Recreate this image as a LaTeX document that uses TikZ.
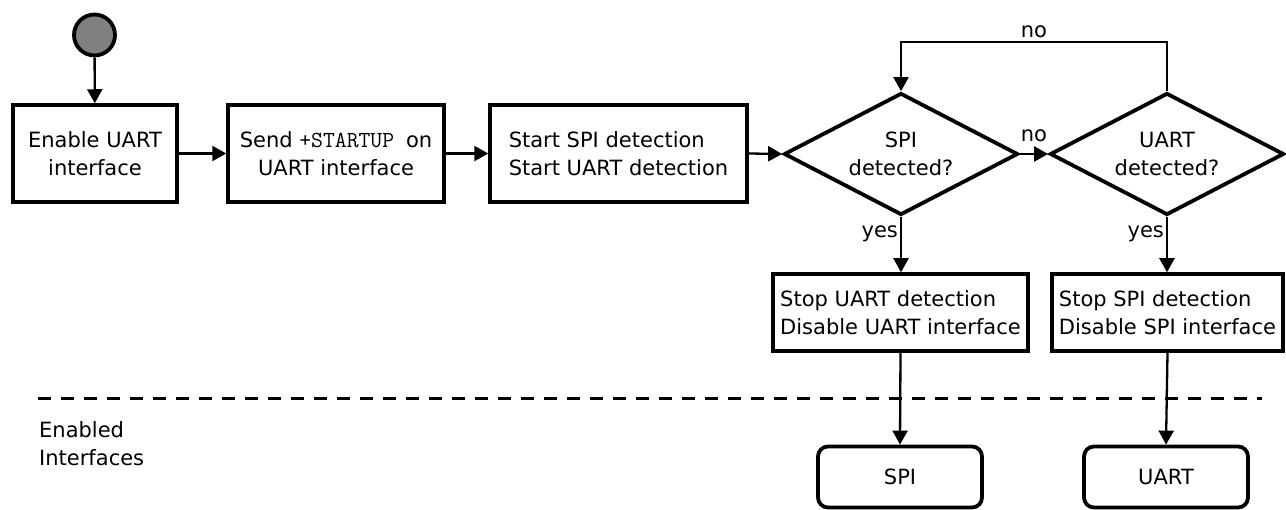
\documentclass[tikz,border=0pt]{standalone}
\usepackage{fontspec}
\setmainfont{DejaVu Sans}
\newcommand{\fs}{\fontsize{21}{28}\selectfont}
\newcommand{\monotxt}[1]{{\ttfamily\fontsize{23}{28}\selectfont #1}}
\usetikzlibrary{shapes.geometric,arrows.meta,calc}
\begin{document}
\begin{tikzpicture}[x=1pt,y=-1pt,
  every node/.style={font=\fs},
  box/.style={draw, line width=3.5pt, inner sep=0pt, align=center},
  lbox/.style={box, align=left},
  dec/.style={draw, diamond, line width=3.8pt, inner sep=0pt, aspect=1.9,
    minimum width=234pt, minimum height=122pt, align=center},
  endbox/.style={draw, line width=3.8pt, rounded corners=10pt, inner sep=0pt,
    minimum width=164pt, minimum height=61pt},
  conn/.style={line width=2.3pt, -{Triangle[length=14pt,width=15pt]}},
  lbl/.style={inner sep=2pt}
]
\useasboundingbox (0,0) rectangle (1286,510);

% separator
\coordinate (sepL) at (38,399);
\coordinate (sepR) at (1262,399);
\draw[line width=3pt, dash pattern=on 13pt off 10pt] (sepL) -- (sepR);
\node[anchor=north west, inner sep=0pt, align=left] (enab) at (39,421) {Enabled\\Interfaces};

% start
\node[circle, draw, line width=3.8pt, fill=black!50, minimum size=41pt, inner sep=0pt] (start) at (94.5,35) {};

% boxes
\node[box, minimum width=164pt, minimum height=97pt] (b1) at (95,153.5) {Enable UART\\interface};
\node[box, minimum width=216pt, minimum height=97pt] (b2) at (336,153.5) {Send \monotxt{+STARTUP }on\\UART interface};
\node[lbox, minimum width=257pt, minimum height=97pt] (b3) at (618.5,153.5) {Start SPI detection\\Start UART detection};

% decisions
\node[dec] (d1) at (901,154) {SPI\\detected?};
\node[dec] (d2) at (1167,154) {UART\\detected?};

% result boxes
\node[lbox, minimum width=255pt, minimum height=77pt] (b4) at (900.5,312.5) {Stop UART detection\\Disable UART interface};
\node[lbox, minimum width=231pt, minimum height=77pt] (b5) at (1167.5,312.5) {Stop SPI detection\\Disable SPI interface};

% end states
\node[endbox] (spi) at (900,477) {SPI};
\node[endbox] (uart) at (1166,477) {UART};

% connectors
\draw[conn] (start) -- (b1);
\draw[conn] (b1) -- (b2);
\draw[conn] (b2) -- (b3);
\draw[conn] (b3.east) -- (d1.west);
\draw[conn] (d1.east) -- node[lbl, above, yshift=9pt] {no} (d2.west);
\draw[conn] (d2.north) -- ++(0,-49) coordinate (lc)
   -- (lc -| d1.north) node[midway, lbl, above, yshift=1pt] {no} -- (d1.north);
\draw[conn] (d1.south) -- node[lbl, left, pos=0.3] {yes} (b4.north -| d1.south);
\draw[conn] (d2.south) -- node[lbl, left, pos=0.3] {yes} (b5.north -| d2.south);
\draw[conn] (b4.south) -- (spi.north);
\draw[conn] (b5.south) -- (uart.north);
\end{tikzpicture}
\end{document}
